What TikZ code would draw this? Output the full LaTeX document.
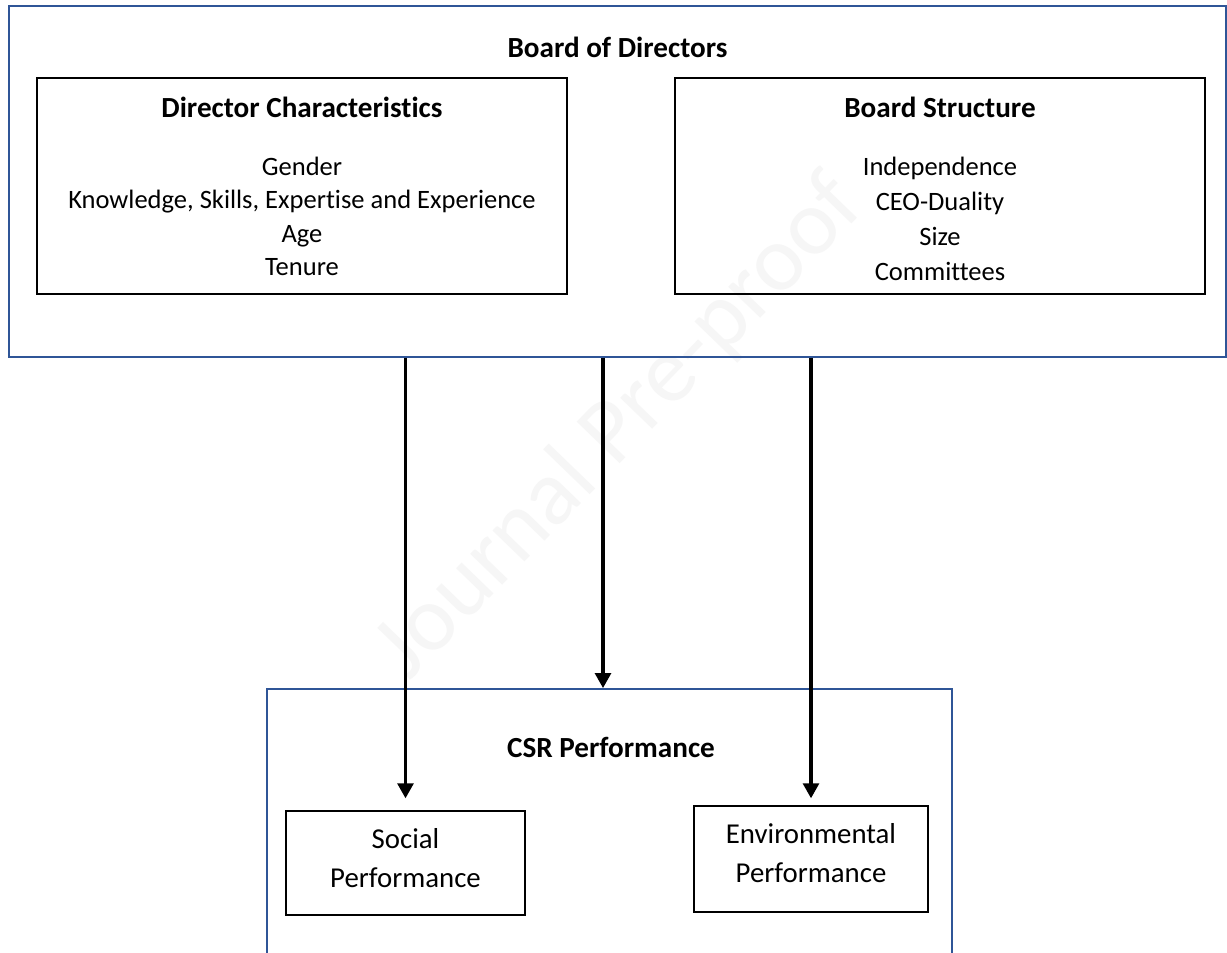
\documentclass[tikz,border=0pt]{standalone}
\usepackage{fontspec}
\setmainfont{Carlito}[Ligatures=NoCommon]
\usepackage{tikz}
\usetikzlibrary{calc,arrows.meta}
\definecolor{boardblue}{HTML}{2F5597}
\definecolor{wmark}{HTML}{F6F6F6}
\tikzset{
  outerbox/.style={draw=boardblue, line width=1.1pt},
  innerbox/.style={draw=black, line width=0.8pt},
  head/.style={anchor=base, font=\fontsize{16.6}{20}\selectfont\bfseries},
  item/.style={anchor=base, font=\fontsize{15.1}{18}\selectfont},
  perf/.style={anchor=base, font=\fontsize{16.4}{20}\selectfont},
  arr/.style={line width=1.8pt, -{Triangle[width=9pt,length=8.5pt]}}
}

\begin{document}
\begin{tikzpicture}[x=0.02cm, y=-0.02cm]
\useasboundingbox (0,0) rectangle (1227,953);
\fill[white] (0,0) rectangle (1227,953);

% Watermark
\node[rotate=46, text=wmark, font=\fontsize{53}{60}\selectfont] (wm) at (620,428) {Journal Pre-proof};

% Board of Directors (outer box)
\node[outerbox, minimum width=24.34cm, minimum height=7.02cm] (board) at (617.5,181.5) {};
\node[head] (boardtitle) at (617.5,57.5) {Board of Directors};

% Director characteristics
\node[innerbox, minimum width=10.6cm, minimum height=4.32cm] (dirchar) at (302,186) {};
\node[head] (dirtitle) at (302,117.5) {Director Characteristics};
\foreach \txt [count=\i from 0] in {Gender, {Knowledge, Skills, Expertise and Experience}, Age, Tenure}
  \node[item] (dir\i) at (302,{175+33.5*\i}) {\txt};

% Board structure
\node[innerbox, minimum width=10.6cm, minimum height=4.32cm] (structure) at (940,186) {};
\node[head] (structtitle) at (940,117.5) {Board Structure};
\foreach \txt [count=\i from 0] in {Independence, CEO-Duality, Size, Committees}
  \node[item] (str\i) at (940,{175.5+35*\i}) {\txt};

% CSR performance (open at the bottom of the page)
\node[outerbox, minimum width=13.7cm, minimum height=6.22cm] (csr) at (609.5,844.5) {};
\node[head] (csrtitle) at (611,757.5) {CSR Performance};

% Social and environmental performance
\node[innerbox, minimum width=4.78cm, minimum height=2.08cm] (social) at (405.5,863) {};
\node[perf] (soc1) at (405.5,848) {Social};
\node[perf] (soc2) at (405.5,887.5) {Performance};

\node[innerbox, minimum width=4.68cm, minimum height=2.12cm] (env) at (811,859) {};
\node[perf] (env1) at (811,843) {Environmental};
\node[perf] (env2) at (811,882) {Performance};

% Arrows
\coordinate (csrin) at ($(csr.north)+(-6.5,0)$);
\draw[arr] (board.south -| social.north) -- ($(social.north)+(0,-12)$);
\draw[arr] (board.south -| csrin) -- (csrin);
\draw[arr] (board.south -| env.north) -- ($(env.north)+(0,-7)$);
\end{tikzpicture}
\end{document}
